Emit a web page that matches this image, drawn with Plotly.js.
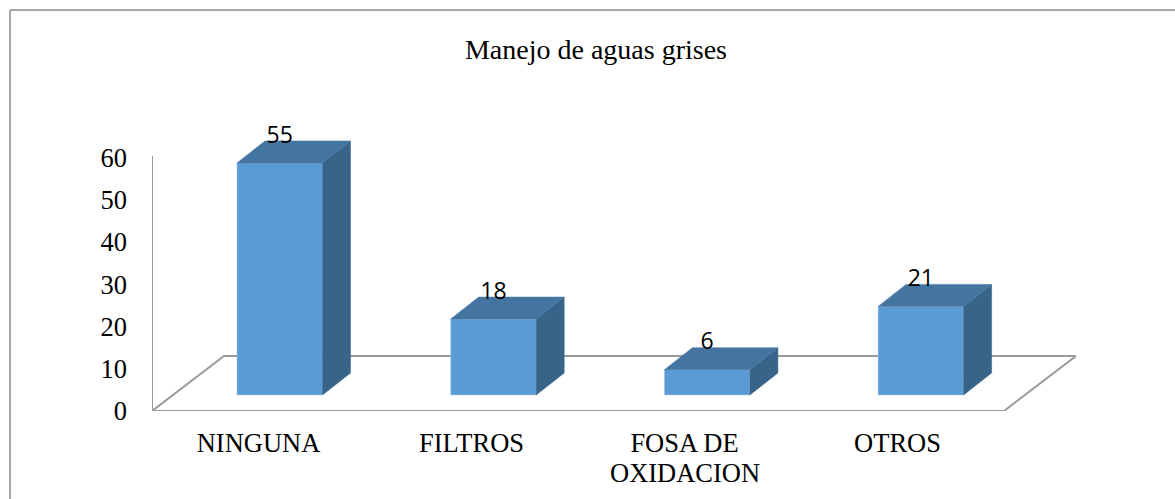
<!DOCTYPE html>
<html><head><meta charset="utf-8">
<script src="https://cdn.plot.ly/plotly-3.0.1.min.js"></script>
<style>html,body{margin:0;padding:0;background:#fff}</style></head>
<body><div id="chart" style="width:1175px;height:499px"></div>
<script>
var categoryFirstLines = ["NINGUNA","FILTROS","FOSA DE","OTROS"];
var categorySecondLines = ["","","OXIDACION",""];
var values = [55,18,6,21];
var yTicks = [0,10,20,30,40,50,60];

var W=1175,H=499;
var plotL=152, plotR=1076, plotT=120, plotB=411;
var pxPerUnit=4.22, pxPerCat=213;
var xMin=-0.5, xMax=xMin+(plotR-plotL)/pxPerCat;
var yMax=(plotB-plotT)/pxPerUnit;
function dx(p){return p/pxPerCat;}
function dy(p){return p/pxPerUnit;}

var floorDx=dx(72), floorDy=dy(55);
var barStep=dx(213.7), barLeft=dx(85), barW=dx(85.5), barBase=dy(16), sideX=dx(28), sideY=dy(22);
var gray='#9a9a9a', front='#5b9bd5', topC='#4475a1', sideC='#39648a', frame='#a6a6a6';

function leftOf(i){return xMin+barLeft+i*barStep;}
function centerOf(i){return leftOf(i)+barW/2;}

var traces=[];
values.forEach(function(v,i){
  var l=leftOf(i), r=l+barW, b=barBase, t=barBase+v;
  traces.push({type:'scatter',mode:'lines',fill:'toself',fillcolor:sideC,hoverinfo:'skip',showlegend:false,
    line:{color:sideC,width:0.5},x:[r,r+sideX,r+sideX,r,r],y:[b,b+sideY,t+sideY,t,b]});
  traces.push({type:'scatter',mode:'lines',fill:'toself',fillcolor:topC,hoverinfo:'skip',showlegend:false,
    line:{color:topC,width:0.5},x:[l,l+sideX,r+sideX,r,l],y:[t,t+sideY,t+sideY,t,t]});
});
traces.push({type:'bar',x:values.map(function(v,i){return centerOf(i);}),
  y:values,base:barBase,width:barW,marker:{color:front,line:{color:'#a9cbe8',width:0.5}},
  hoverinfo:'skip',showlegend:false});
traces.push({type:'scatter',mode:'text',hoverinfo:'skip',showlegend:false,
  x:values.map(function(v,i){return centerOf(i);}),
  y:values.map(function(v){return v+barBase+dy(26);}),
  text:values.map(String),textposition:'middle center',
  textfont:{family:'Open Sans, Noto Sans, sans-serif',size:23,color:'#000'}});

function px(x){return (x-plotL)/(plotR-plotL);}
function py(y){return (plotB-y)/(plotB-plotT);}
function frameLine(x0,y0,x1,y1){
  return {type:'line',xref:'paper',yref:'paper',layer:'below',line:{color:frame,width:2},
    x0:px(x0),x1:px(x1),y0:py(y0),y1:py(y1)};
}
var floorPts=[[xMin,0],[xMin+floorDx,floorDy],[xMax,floorDy],[xMax-floorDx,0]];
var floorPath='M'+floorPts.map(function(p){return p[0]+','+p[1];}).join(' L')+' Z';

var annotations=[];
categorySecondLines.forEach(function(t,i){
  if(!t) return;
  annotations.push({text:t,x:i,xref:'x',y:py(472.5),yref:'paper',xanchor:'center',yanchor:'middle',
    showarrow:false,font:{family:'Liberation Serif, serif',size:26.5,color:'#000'}});
});

var layout={
  width:W,height:H,paper_bgcolor:'#fff',plot_bgcolor:'rgba(0,0,0,0)',showlegend:false,
  margin:{l:plotL,r:W-plotR,t:plotT,b:H-plotB,pad:0},
  font:{family:'Liberation Serif, serif',color:'#000'},
  title:{text:'Manejo de aguas grises',font:{family:'Liberation Serif, serif',size:28,color:'#000'},
    x:596/W,xanchor:'center',y:1-49/H,yanchor:'middle'},
  xaxis:{range:[xMin,xMax],tickmode:'array',tickvals:[0,1,2,3],ticktext:categoryFirstLines,
    showgrid:false,zeroline:false,showline:false,ticks:'',tickangle:0,
    tickfont:{size:26.5,family:'Liberation Serif, serif',color:'#000'},ticklabelstandoff:13,fixedrange:true},
  yaxis:{range:[0,yMax],tickmode:'array',tickvals:yTicks,ticktext:yTicks.map(String),
    showgrid:false,zeroline:false,showline:false,ticks:'',
    tickfont:{size:26.5,family:'Liberation Serif, serif',color:'#000'},ticklabelstandoff:24,fixedrange:true},
  annotations:annotations,
  shapes:[
    frameLine(10,10,1175,10),
    frameLine(10,10,10,499),
    {type:'path',xref:'x',yref:'y',layer:'below',path:floorPath,line:{color:gray,width:2},fillcolor:'rgba(0,0,0,0)'},
    {type:'line',xref:'x',yref:'y',layer:'below',x0:xMin,x1:xMin,y0:0,y1:dy(255),line:{color:gray,width:2}}
  ]
};
Plotly.newPlot('chart',traces,layout,{displayModeBar:false,staticPlot:true});
</script></body></html>
